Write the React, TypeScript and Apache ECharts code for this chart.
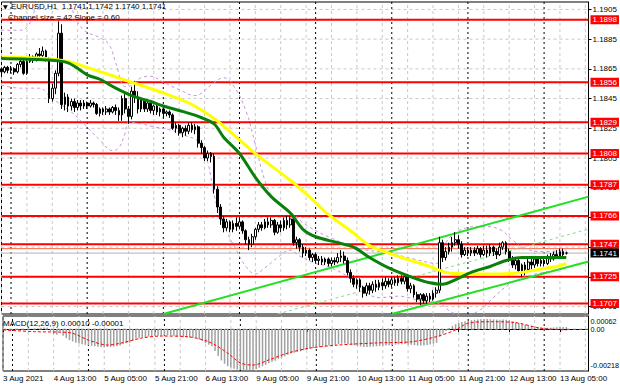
import React, { useEffect, useRef } from 'react';
import * as echarts from 'echarts';

const FONT = '"Liberation Sans", Arial, sans-serif';

const headerMark = '▼';
const headerText = 'EURUSD,H1  1.1741 1.1742 1.1740 1.1741';
const channelText = 'Channel size = 42 Slope = 0.60';
const macdText = 'MACD(12,26,9) 0.00010 -0.00001';

const slotCount = 186;
const labelStep = 16;
const gridStep = 8;
const timeLabels = ['3 Aug 2021', '4 Aug 13:00', '5 Aug 05:00', '5 Aug 21:00', '6 Aug 13:00', '9 Aug 05:00',
  '9 Aug 21:00', '10 Aug 13:00', '11 Aug 05:00', '11 Aug 21:00', '12 Aug 13:00', '13 Aug 05:00'];
const daySeparators = [3, 27, 51, 75, 99, 123, 147, 171];

const priceMin = 1.17;
const priceMax = 1.191;
const priceTicks = [1.1705, 1.1725, 1.1745, 1.1765, 1.1785, 1.1805, 1.1825, 1.1845, 1.1865, 1.1885, 1.1905];
const levels = [1.1898, 1.1856, 1.1829, 1.1808, 1.1787, 1.1766, 1.1747, 1.1725, 1.1707];
const currentPrice = 1.1741;
const askPrice = 1.1744;

// [open, close, low, high]
const candles = [
  [1.1865,1.1863,1.1861,1.1866],[1.1863,1.1866,1.1862,1.1867],[1.1866,1.1864,1.1862,1.1867],[1.1864,1.1865,1.1862,1.1867],
  [1.1865,1.1863,1.1861,1.1866],[1.1863,1.1868,1.1862,1.1869],[1.1868,1.1870,1.1866,1.1872],[1.1870,1.1862,1.1861,1.1871],
  [1.1862,1.1870,1.1861,1.1872],[1.1870,1.1873,1.1869,1.1875],[1.1873,1.1871,1.1869,1.1874],[1.1871,1.1875,1.1870,1.1876],
  [1.1875,1.1874,1.1871,1.1879],[1.1874,1.1877,1.1872,1.1880],[1.1877,1.1872,1.1870,1.1878],[1.1872,1.1845,1.1842,1.1873],
  [1.1845,1.1852,1.1843,1.1855],[1.1852,1.1862,1.1848,1.1864],[1.1862,1.1889,1.1860,1.1897],[1.1889,1.1841,1.1838,1.1895],
  [1.1841,1.1846,1.1837,1.1849],[1.1846,1.1840,1.1836,1.1848],[1.1840,1.1843,1.1837,1.1845],[1.1843,1.1839,1.1836,1.1845],
  [1.1839,1.1842,1.1837,1.1844],[1.1842,1.1840,1.1837,1.1844],[1.1840,1.1842,1.1838,1.1844],[1.1842,1.1840,1.1838,1.1843],
  [1.1840,1.1842,1.1839,1.1844],[1.1842,1.1841,1.1839,1.1843],[1.1841,1.1835,1.1834,1.1842],[1.1835,1.1838,1.1833,1.1839],
  [1.1838,1.1836,1.1834,1.1839],[1.1836,1.1838,1.1834,1.1840],[1.1838,1.1836,1.1834,1.1839],[1.1836,1.1839,1.1835,1.1840],
  [1.1839,1.1837,1.1834,1.1841],[1.1837,1.1834,1.1830,1.1839],[1.1834,1.1845,1.1830,1.1847],[1.1845,1.1838,1.1835,1.1848],
  [1.1838,1.1833,1.1828,1.1840],[1.1833,1.1850,1.1831,1.1853],[1.1850,1.1846,1.1842,1.1857],[1.1846,1.1838,1.1835,1.1850],
  [1.1838,1.1844,1.1836,1.1846],[1.1844,1.1838,1.1836,1.1845],[1.1838,1.1842,1.1836,1.1844],[1.1842,1.1837,1.1835,1.1843],
  [1.1837,1.1840,1.1834,1.1841],[1.1840,1.1836,1.1834,1.1841],[1.1836,1.1838,1.1833,1.1839],[1.1838,1.1835,1.1832,1.1839],
  [1.1835,1.1836,1.1833,1.1837],[1.1836,1.1834,1.1832,1.1837],[1.1834,1.1825,1.1824,1.1835],[1.1825,1.1827,1.1822,1.1829],
  [1.1827,1.1822,1.1820,1.1828],[1.1822,1.1825,1.1819,1.1826],[1.1825,1.1823,1.1820,1.1827],[1.1823,1.1827,1.1821,1.1829],
  [1.1827,1.1824,1.1822,1.1829],[1.1824,1.1826,1.1821,1.1828],[1.1826,1.1815,1.1812,1.1827],[1.1815,1.1812,1.1808,1.1817],
  [1.1812,1.1805,1.1803,1.1813],[1.1805,1.1808,1.1803,1.1810],[1.1808,1.1806,1.1802,1.1809],[1.1806,1.1784,1.1781,1.1808],
  [1.1784,1.1772,1.1768,1.1786],[1.1772,1.1764,1.1760,1.1774],[1.1764,1.1758,1.1755,1.1766],[1.1758,1.1762,1.1756,1.1764],
  [1.1762,1.1757,1.1755,1.1763],[1.1757,1.1761,1.1755,1.1763],[1.1761,1.1759,1.1756,1.1765],[1.1759,1.1762,1.1757,1.1764],
  [1.1762,1.1756,1.1754,1.1763],[1.1756,1.1750,1.1747,1.1757],[1.1750,1.1747,1.1743,1.1752],[1.1747,1.1752,1.1745,1.1754],
  [1.1752,1.1757,1.1750,1.1758],[1.1757,1.1760,1.1755,1.1762],[1.1760,1.1758,1.1756,1.1762],[1.1758,1.1762,1.1757,1.1764],
  [1.1762,1.1760,1.1758,1.1765],[1.1760,1.1763,1.1758,1.1765],[1.1763,1.1755,1.1753,1.1764],[1.1755,1.1760,1.1754,1.1762],
  [1.1760,1.1758,1.1755,1.1763],[1.1758,1.1763,1.1756,1.1765],[1.1763,1.1760,1.1757,1.1766],[1.1760,1.1764,1.1758,1.1766],
  [1.1764,1.1748,1.1746,1.1765],[1.1748,1.1750,1.1744,1.1752],[1.1750,1.1745,1.1742,1.1751],[1.1745,1.1741,1.1738,1.1747],
  [1.1741,1.1743,1.1739,1.1745],[1.1743,1.1738,1.1736,1.1744],[1.1738,1.1740,1.1735,1.1741],[1.1740,1.1736,1.1734,1.1741],
  [1.1736,1.1737,1.1733,1.1739],[1.1737,1.1735,1.1733,1.1739],[1.1735,1.1737,1.1733,1.1738],[1.1737,1.1734,1.1732,1.1738],
  [1.1734,1.1736,1.1732,1.1738],[1.1736,1.1735,1.1733,1.1738],[1.1735,1.1738,1.1734,1.1741],[1.1738,1.1739,1.1735,1.1743],
  [1.1739,1.1736,1.1734,1.1742],[1.1736,1.1728,1.1726,1.1738],[1.1728,1.1724,1.1721,1.1730],[1.1724,1.1720,1.1718,1.1726],
  [1.1720,1.1723,1.1717,1.1724],[1.1723,1.1718,1.1715,1.1724],[1.1718,1.1714,1.1711,1.1719],[1.1714,1.1719,1.1712,1.1721],
  [1.1719,1.1716,1.1713,1.1721],[1.1716,1.1720,1.1714,1.1722],[1.1720,1.1718,1.1715,1.1723],[1.1718,1.1721,1.1716,1.1723],
  [1.1721,1.1719,1.1716,1.1724],[1.1719,1.1722,1.1717,1.1725],[1.1722,1.1720,1.1718,1.1724],[1.1720,1.1723,1.1718,1.1725],
  [1.1723,1.1721,1.1719,1.1725],[1.1721,1.1724,1.1719,1.1726],[1.1724,1.1722,1.1720,1.1726],[1.1722,1.1725,1.1720,1.1727],
  [1.1725,1.1717,1.1715,1.1727],[1.1717,1.1719,1.1714,1.1721],[1.1719,1.1713,1.1711,1.1720],[1.1713,1.1710,1.1708,1.1715],
  [1.1710,1.1713,1.1706,1.1714],[1.1713,1.1709,1.1707,1.1714],[1.1709,1.1712,1.1707,1.1714],[1.1712,1.1710,1.1708,1.1714],
  [1.1710,1.1714,1.1709,1.1716],[1.1714,1.1716,1.1711,1.1718],[1.1716,1.1748,1.1714,1.1752],[1.1748,1.1738,1.1735,1.1750],
  [1.1738,1.1742,1.1736,1.1745],[1.1742,1.1745,1.1740,1.1748],[1.1745,1.1748,1.1742,1.1752],[1.1748,1.1750,1.1746,1.1755],
  [1.1750,1.1747,1.1744,1.1753],[1.1747,1.1740,1.1738,1.1749],[1.1740,1.1743,1.1739,1.1745],[1.1743,1.1741,1.1739,1.1745],
  [1.1741,1.1743,1.1739,1.1745],[1.1743,1.1741,1.1739,1.1745],[1.1741,1.1744,1.1740,1.1746],[1.1744,1.1740,1.1738,1.1745],
  [1.1740,1.1743,1.1739,1.1746],[1.1743,1.1741,1.1738,1.1746],[1.1741,1.1745,1.1739,1.1747],[1.1745,1.1742,1.1739,1.1746],
  [1.1742,1.1740,1.1737,1.1744],[1.1740,1.1745,1.1739,1.1748],[1.1745,1.1748,1.1743,1.1749],[1.1748,1.1742,1.1740,1.1749],
  [1.1742,1.1737,1.1735,1.1744],[1.1737,1.1733,1.1731,1.1739],[1.1733,1.1736,1.1730,1.1738],[1.1736,1.1729,1.1727,1.1737],
  [1.1729,1.1733,1.1725,1.1734],[1.1733,1.1730,1.1726,1.1735],[1.1730,1.1735,1.1728,1.1737],[1.1735,1.1733,1.1730,1.1737],
  [1.1733,1.1737,1.1731,1.1739],[1.1737,1.1734,1.1732,1.1738],[1.1734,1.1736,1.1732,1.1738],[1.1736,1.1734,1.1732,1.1738],
  [1.1734,1.1738,1.1733,1.1740],[1.1738,1.1737,1.1735,1.1741],[1.1737,1.1740,1.1736,1.1742],[1.1740,1.1739,1.1737,1.1743],
  [1.1739,1.1742,1.1738,1.1744],[1.1742,1.1740,1.1739,1.1744],[1.1741,1.1741,1.1740,1.1742],
];

const maYellow = [[0,1.1873],[14,1.1872],[21,1.1870],[27,1.1866],[41,1.1856],[52,1.1848],[60,1.1841],[68,1.1830],
  [80,1.1808],[91,1.1790],[97,1.1779],[103,1.1767],[110,1.1756],[116,1.1746],[122,1.1741],[129,1.1736],[135,1.1732],
  [140,1.1728],[147,1.1727],[157,1.1727],[164,1.1728],[169,1.1730],[175,1.1732],[178,1.1734]];

const maGreen = [[0,1.1872],[14,1.1871],[21,1.1869],[27,1.1861],[31,1.1858],[36,1.1852],[41,1.1847],[47,1.1843],
  [51,1.1840],[56,1.1837],[62,1.1833],[67,1.1828],[70,1.1819],[75,1.1808],[80,1.1792],[85,1.1779],[91,1.1768],
  [95,1.1757],[99,1.1752],[106,1.1748],[111,1.1745],[116,1.1738],[122,1.1731],[129,1.1725],[135,1.1721],[139,1.1720],
  [143,1.1723],[148,1.1728],[154,1.1732],[159,1.1736],[164,1.1738],[172,1.1738],[178,1.1738]];

const bandUpper = [[0,1.1891],[6,1.1891],[9,1.1896],[11,1.1908],[15,1.1924],[20,1.1919],[23,1.1901],[26,1.1891],
  [31,1.1886],[34,1.1881],[36,1.1869],[39,1.1853],[41,1.1854],[44,1.1859],[47,1.1860],[51,1.1856],[56,1.1851],
  [61,1.1847],[66,1.1854],[70,1.1859],[73,1.1854],[77,1.1837],[80,1.1814],[83,1.1790],[86,1.1777],[91,1.1769],
  [96,1.1760],[103,1.1752],[113,1.1744],[122,1.1741],[130,1.1737],[137,1.1734],[140,1.1748],[144,1.1756],
  [151,1.1759],[157,1.1757],[161,1.1750],[165,1.1744],[171,1.1742],[178,1.1743]];

const bandLower = [[0,1.1854],[6,1.1852],[12,1.1852],[15,1.1847],[18,1.1842],[22,1.1836],[26,1.1828],[31,1.1817],
  [35,1.1810],[37,1.1812],[39,1.1822],[40,1.1829],[44,1.1828],[48,1.1826],[53,1.1824],[58,1.1820],[62,1.1816],
  [65,1.1802],[67,1.1780],[70,1.1760],[74,1.1743],[77,1.1732],[80,1.1727],[83,1.1731],[87,1.1738],[91,1.1743],
  [94,1.1739],[99,1.1734],[103,1.1732],[110,1.1724],[114,1.1716],[119,1.1711],[125,1.1712],[132,1.1709],
  [138,1.1707],[142,1.1701],[146,1.1699],[151,1.1703],[155,1.1711],[160,1.1720],[165,1.1725],[171,1.1728],[178,1.1731]];

const channelUpper = [[51, 1.1700], [185, 1.1779]];
const channelLower = [[123, 1.1700], [185, 1.17353]];
const channelMiddle = [[87, 1.1700], [185, 1.17571]];

const macdMin = -0.0022;
const macdMax = 0.00068;
const macdHist = [
  -0.00008,-0.00007,-0.00006,-0.00006,-0.00005,-0.00004,-0.00002,
  -0.00003,-0.00001,0.00001,0.00002,0.00004,0.00006,0.00008,0.00007,
  -0.00010,-0.00025,-0.00030,-0.00012,-0.00035,-0.00048,-0.00058,-0.00065,-0.00072,-0.00076,-0.00080,
  -0.00083,-0.00086,-0.00088,-0.00090,-0.00093,-0.00095,-0.00096,-0.00095,-0.00094,-0.00092,
  -0.00090,-0.00086,-0.00078,-0.00074,-0.00072,
  -0.00060,-0.00050,-0.00047,-0.00044,-0.00042,
  -0.00040,-0.00038,-0.00037,-0.00036,-0.00035,-0.00034,-0.00033,-0.00033,-0.00036,-0.00038,
  -0.00041,-0.00043,-0.00044,-0.00044,-0.00045,-0.00046,
  -0.00055,-0.00063,-0.00074,-0.00082,-0.00090,
  -0.00115,-0.00142,-0.00165,
  -0.00182,-0.00195,-0.00203,-0.00208,-0.00212,-0.00214,-0.00216,-0.00217,-0.00218,-0.00215,-0.00210,
  -0.00203,-0.00195,-0.00188,-0.00180,-0.00172,-0.00166,-0.00158,-0.00150,-0.00143,-0.00135,-0.00128,
  -0.00125,-0.00120,-0.00117,-0.00112,-0.00108,-0.00104,-0.00100,-0.00097,
  -0.00094,-0.00091,-0.00089,-0.00087,-0.00085,-0.00083,-0.00080,-0.00077,-0.00076,-0.00080,-0.00083,
  -0.00086,-0.00089,-0.00091,-0.00094,-0.00094,-0.00093,-0.00092,-0.00091,-0.00089,-0.00088,-0.00087,
  -0.00085,-0.00084,-0.00082,-0.00081,
  -0.00080,-0.00079,-0.00082,-0.00083,-0.00085,-0.00087,-0.00087,-0.00086,-0.00084,-0.00081,-0.00077,-0.00072,
  -0.00040,-0.00025,-0.00010,0.00005,
  0.00016,0.00025,0.00032,0.00036,0.00040,0.00043,0.00046,0.00048,0.00050,0.00051,0.00052,0.00052,0.00051,
  0.00050,0.00049,0.00049,0.00050,
  0.00048,0.00045,0.00040,0.00036,0.00031,0.00027,0.00022,0.00019,0.00016,0.00013,0.00011,0.00009,
  0.00008,0.00007,0.00007,0.00008,0.00009,0.00010,0.00010,0.00010,
];

const macdSignal = [[0,-0.00005],[10,-0.00014],[21,-0.00019],[27,-0.00058],[33,-0.00084],[37,-0.00075],
  [44,-0.00047],[50,-0.00037],[58,-0.00040],[65,-0.00067],[71,-0.00126],[75,-0.00178],[79,-0.00189],
  [84,-0.00162],[90,-0.00126],[97,-0.00100],[106,-0.00084],[118,-0.00073],[129,-0.00067],[137,-0.00040],
  [143,-0.00005],[147,0.00031],[154,0.00038],[162,0.00033],[170,0.00004],[178,-0.00005]];

const macdTicks = [0.00062, 0, -0.00218];
const macdTickLabels = ['0.00062', '0.00', '-0.00218'];

const categories = Array.from({ length: slotCount }, (_, i) => String(i));

function buildOption() {
  const lastSlot = slotCount - 1;
  const showLabel = (idx: number) => idx % labelStep === 0 && idx / labelStep < timeLabels.length;

  const gridSlots: number[] = [];
  for (let i = 0; i < slotCount; i += gridStep) gridSlots.push(i);

  const seg = (pane: number, data: number[][], color: string, width: number, type: any, z: number, extra: any = {}) => ({
    type: 'line', xAxisIndex: pane, yAxisIndex: pane, data, showSymbol: false, symbol: 'none', silent: true,
    lineStyle: { color, width, type }, z, ...extra,
  });

  const gridSeries: any[] = [];
  priceTicks.forEach((v) => gridSeries.push(seg(0, [[0, v], [lastSlot, v]], '#c8c8c8', 1, [3, 3], 1)));
  gridSlots.forEach((i) => {
    gridSeries.push(seg(0, [[i, priceMin], [i, priceMax]], '#c8c8c8', 1, [3, 3], 1));
    gridSeries.push(seg(1, [[i, macdMin], [i, macdMax]], '#c8c8c8', 1, [3, 3], 1));
  });
  daySeparators.forEach((i) => {
    gridSeries.push(seg(0, [[i, priceMin], [i, priceMax]], '#000000', 1, [2, 3], 1));
    gridSeries.push(seg(1, [[i, macdMin], [i, macdMax]], '#000000', 1, [2, 3], 1));
  });

  const tagLabel = (text: string, bg: string) => ({
    endLabel: {
      show: true, formatter: text, distance: 2, backgroundColor: bg, color: '#ffffff',
      fontSize: 8, fontFamily: FONT, padding: [1, 2, 0, 2],
    },
  });

  const levelSeries: any[] = levels.map((v) =>
    seg(0, [[0, v], [lastSlot, v]], '#ff0000', 2, 'solid', 2, tagLabel(v.toFixed(4), '#ff0000')));
  levelSeries.push(seg(0, [[0, askPrice], [lastSlot, askPrice]], '#ff6a4a', 1, 'solid', 2));
  levelSeries.push(seg(0, [[0, currentPrice], [lastSlot, currentPrice]], '#b4b4b4', 1, 'solid', 2,
    tagLabel(currentPrice.toFixed(4), '#000000')));

  const lblStyle = { fontSize: 8, color: '#000', fontFamily: FONT };
  // MT4 keeps the extreme scale labels inside the pane
  const macdLabelShift = [4, 1, -5];

  // MACD scale labels drawn as end labels of level lines (the zero one is also the dotted zero grid line)
  const macdScaleSeries = macdTicks.map((v, k) =>
    seg(1, [[0, v], [lastSlot, v]], k === 1 ? '#c8c8c8' : 'transparent', 1, [3, 3], k === 1 ? 1 : 10, {
      endLabel: {
        show: true, formatter: macdTickLabels[k], distance: 2, offset: [0, macdLabelShift[k]],
        fontSize: 7.2, color: '#000', fontFamily: FONT,
      },
    }));

  return {
    animation: false,
    backgroundColor: '#ffffff',
    textStyle: { fontFamily: FONT },
    grid: [
      { left: 1.5, right: 31.5, top: 2, height: 312, show: true, borderColor: '#000', borderWidth: 1, backgroundColor: 'transparent' },
      { left: 1.5, right: 31.5, top: 316, height: 55, show: true, borderColor: '#000', borderWidth: 1, backgroundColor: 'transparent' },
    ],
    xAxis: [
      {
        type: 'category', gridIndex: 0, data: categories, boundaryGap: false,
        axisLine: { show: false }, axisTick: { show: false }, axisLabel: { show: false }, splitLine: { show: false },
      },
      {
        type: 'category', gridIndex: 1, data: categories, boundaryGap: false,
        axisLine: { show: true, lineStyle: { color: '#000' } },
        axisTick: { show: true, interval: (i: number) => showLabel(i), length: 3, lineStyle: { color: '#000' } },
        axisLabel: {
          interval: (i: number) => showLabel(i),
          formatter: (_v: string, i: number) => (showLabel(i) ? timeLabels[i / labelStep] : ''),
          align: 'left', margin: 3, ...lblStyle,
        },
        splitLine: { show: false },
      },
    ],
    yAxis: [
      {
        type: 'value', gridIndex: 0, position: 'right', min: priceMin, max: priceMax,
        axisLine: { show: true, lineStyle: { color: '#000' } },
        axisTick: { show: true, customValues: priceTicks, length: 3, lineStyle: { color: '#000' } },
        axisLabel: {
          customValues: priceTicks, formatter: (v: number) => v.toFixed(4), margin: 4,
          showMinLabel: true, showMaxLabel: true, ...lblStyle,
        },
        splitLine: { show: false },
      },
      {
        type: 'value', gridIndex: 1, position: 'right', min: macdMin, max: macdMax,
        axisLine: { show: true, lineStyle: { color: '#000' } },
        axisTick: { show: false }, axisLabel: { show: false }, splitLine: { show: false },
      },
    ],
    graphic: [
      { type: 'text', left: 3, top: 3, style: { text: headerMark, fontSize: 6, fill: '#000', fontFamily: 'DejaVu Sans' }, z: 100 },
      { type: 'text', left: 11, top: 2, style: { text: headerText, fontSize: 8, fill: '#000', fontFamily: FONT }, z: 100 },
      { type: 'text', left: 8, top: 13, style: { text: channelText, fontSize: 8, fill: '#000', fontFamily: FONT }, z: 100 },
      { type: 'text', left: 3, top: 319, style: { text: macdText, fontSize: 8, fill: '#000', fontFamily: FONT }, z: 100 },
    ],
    series: [
      ...gridSeries,
      ...levelSeries,
      seg(0, bandUpper, '#c593dc', 1, [3, 3], 3, { smooth: 0.4 }),
      seg(0, bandLower, '#c593dc', 1, [3, 3], 3, { smooth: 0.4 }),
      seg(0, channelMiddle, '#7ee07e', 1, [3, 3], 3),
      seg(0, channelUpper, '#22e022', 2, 'solid', 3),
      seg(0, channelLower, '#22e022', 2, 'solid', 3),
      {
        name: 'EURUSD', type: 'candlestick', xAxisIndex: 0, yAxisIndex: 0, data: candles, barWidth: 2.2, z: 4, silent: true,
        itemStyle: { color: '#ffffff', color0: '#000000', borderColor: '#000000', borderColor0: '#000000', borderWidth: 1 },
      },
      seg(0, maYellow, '#ffff00', 3, 'solid', 5, { smooth: 0.3 }),
      seg(0, maGreen, '#0a800a', 3, 'solid', 6, { smooth: 0.3 }),
      {
        name: 'MACD', type: 'bar', xAxisIndex: 1, yAxisIndex: 1, data: macdHist, barWidth: 1.5, z: 3, silent: true,
        itemStyle: { color: '#a0a0a0' },
      },
      seg(1, macdSignal, '#ff0000', 1, [3, 2], 4, { smooth: 0.3 }),
      ...macdScaleSeries,
    ],
  };
}

export default function App() {
  const ref = useRef<HTMLDivElement>(null);
  useEffect(() => {
    if (!ref.current) return;
    const chart = echarts.init(ref.current, null, { renderer: 'svg' });
    chart.setOption(buildOption() as any);
    return () => chart.dispose();
  }, []);
  return (
    <div
      ref={ref}
      style={{ position: 'fixed', left: 0, top: 0, width: 620, height: 388, background: '#ffffff' }}
    />
  );
}
